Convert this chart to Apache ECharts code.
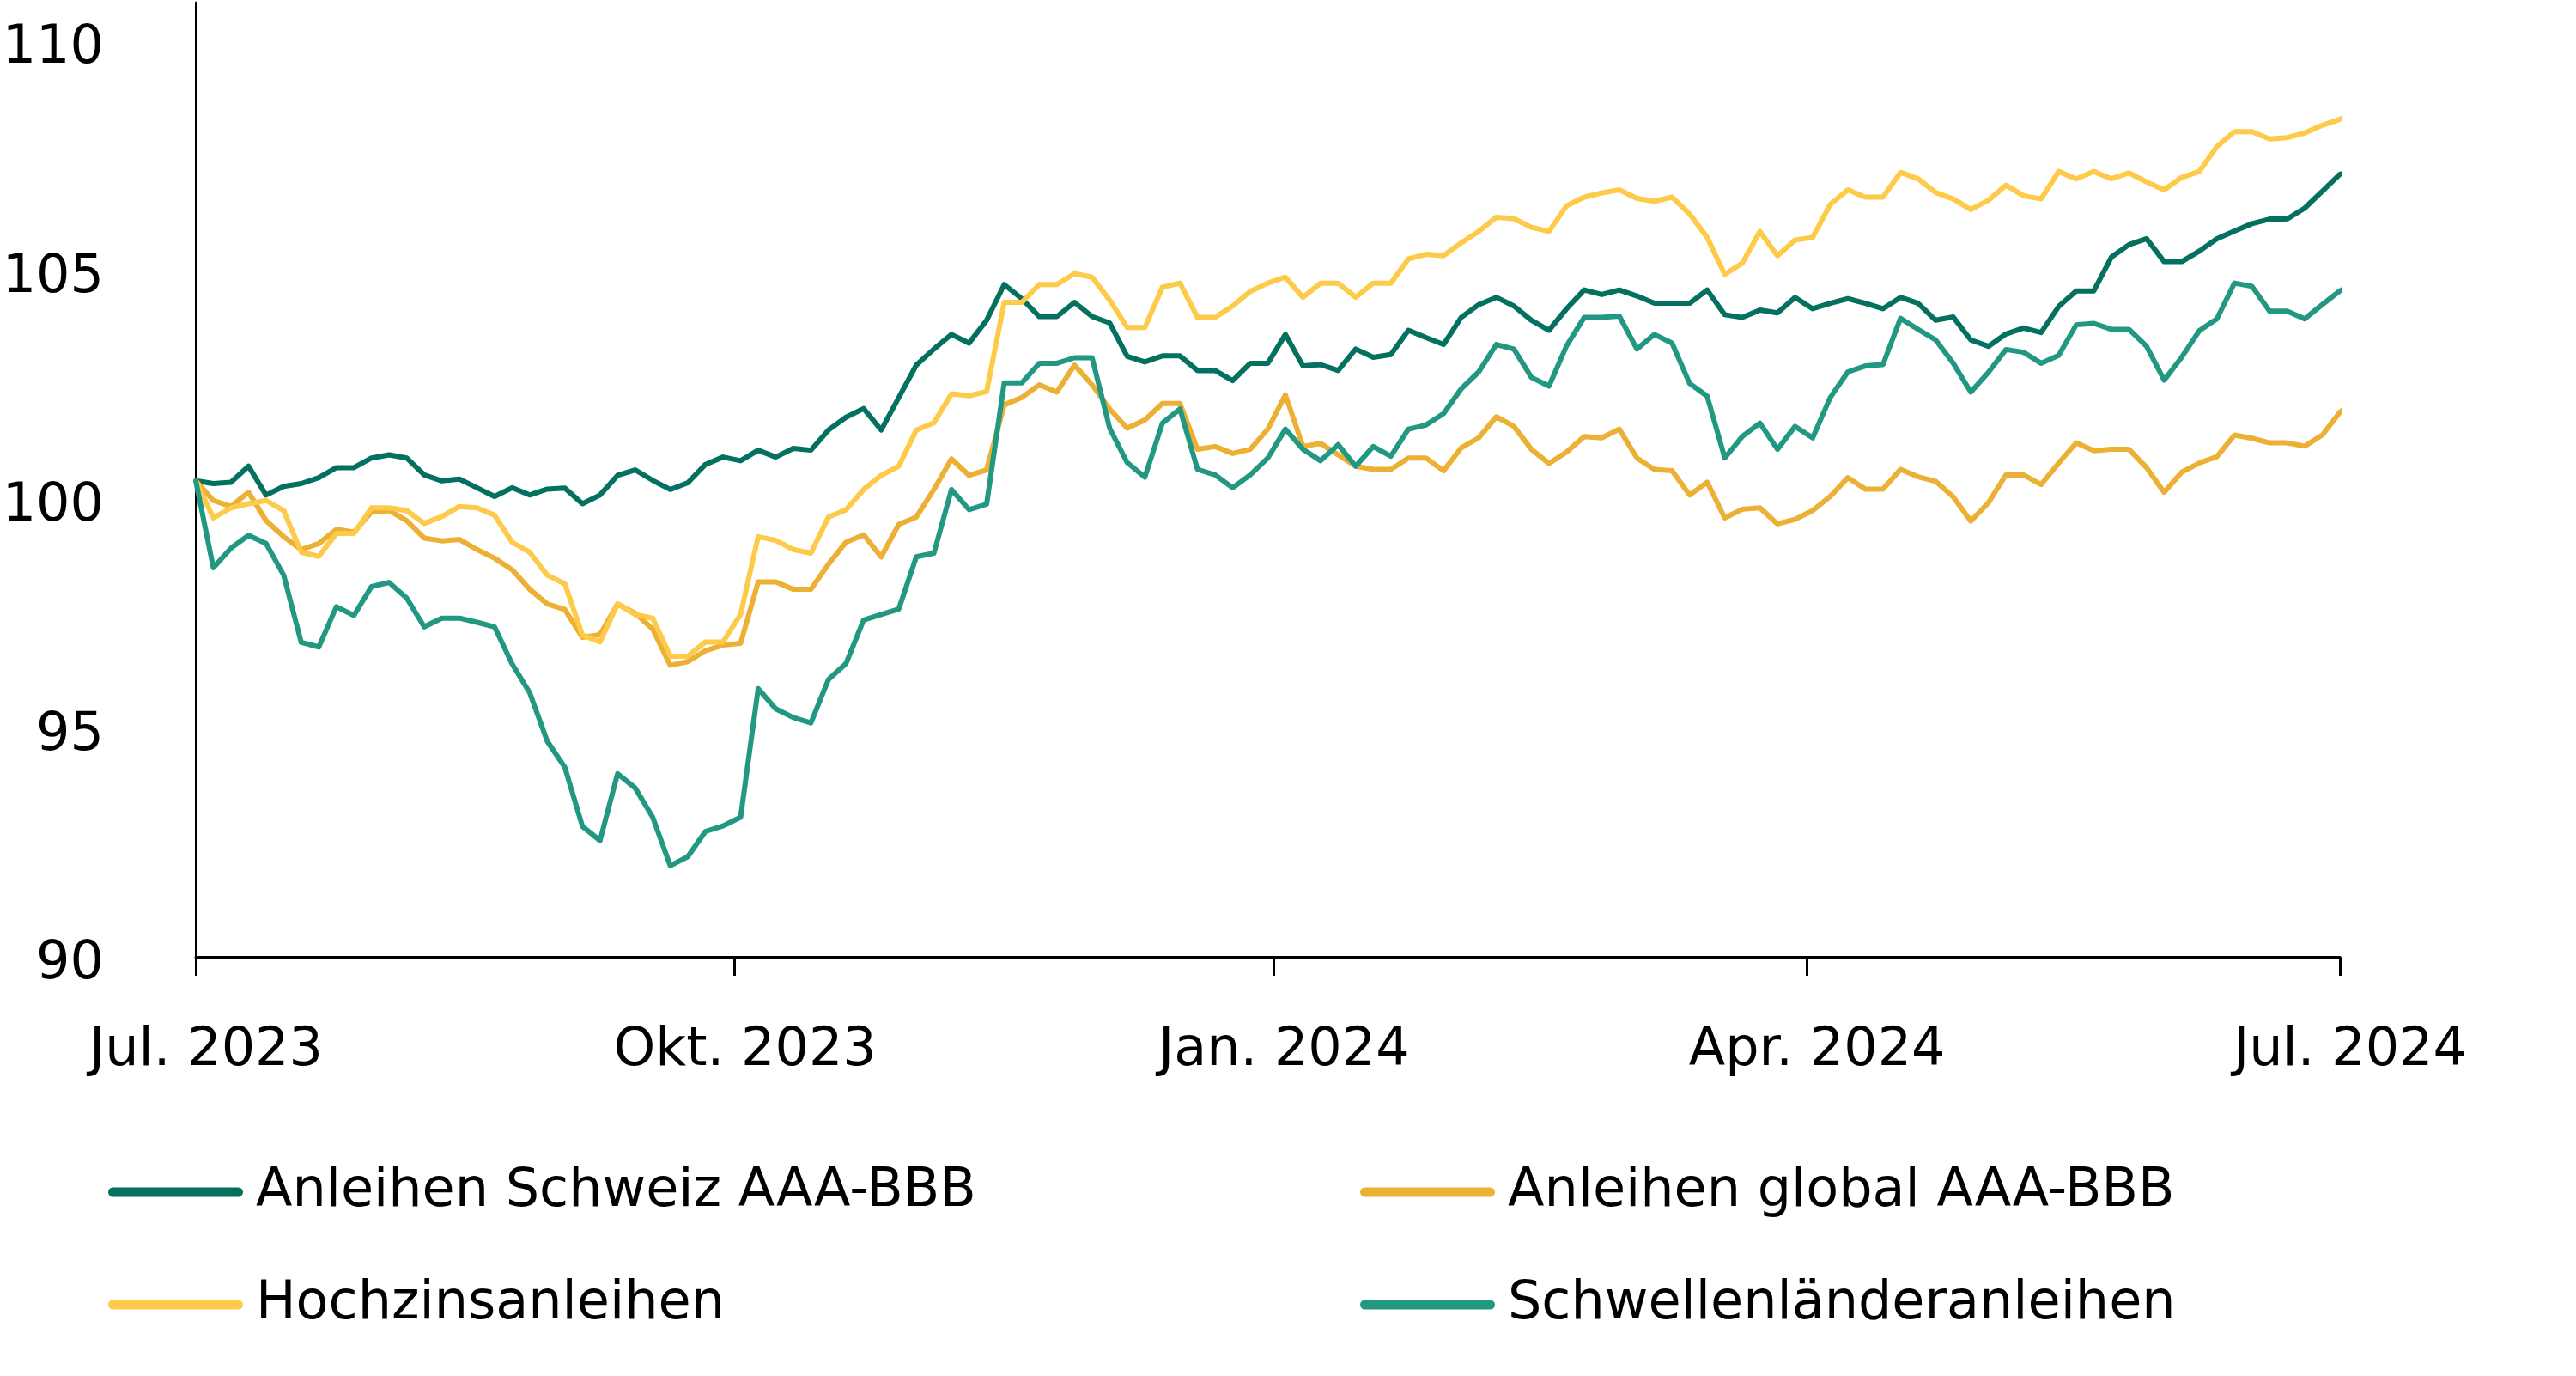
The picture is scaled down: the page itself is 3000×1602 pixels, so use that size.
<!DOCTYPE html>
<html>
<head>
<meta charset="utf-8">
<script src="https://cdn.jsdelivr.net/npm/echarts@6/dist/echarts.min.js"></script>
<style>
  html, body { margin: 0; padding: 0; background: #ffffff; }
  #chart { width: 3000px; height: 1602px; }
</style>
</head>
<body>
<div id="chart"></div>
<script>
const dates = [
  '2023-07-01','2023-07-04','2023-07-07','2023-07-10','2023-07-13','2023-07-16','2023-07-19','2023-07-22','2023-07-25','2023-07-28',
  '2023-07-31','2023-08-03','2023-08-06','2023-08-09','2023-08-12','2023-08-15','2023-08-18','2023-08-21','2023-08-24','2023-08-27',
  '2023-08-30','2023-09-02','2023-09-05','2023-09-08','2023-09-11','2023-09-14','2023-09-17','2023-09-20','2023-09-23','2023-09-26',
  '2023-09-29','2023-10-02','2023-10-05','2023-10-08','2023-10-11','2023-10-14','2023-10-17','2023-10-20','2023-10-23','2023-10-26',
  '2023-10-29','2023-11-01','2023-11-04','2023-11-07','2023-11-10','2023-11-13','2023-11-16','2023-11-19','2023-11-22','2023-11-25',
  '2023-11-28','2023-12-01','2023-12-04','2023-12-07','2023-12-10','2023-12-13','2023-12-16','2023-12-19','2023-12-22','2023-12-25',
  '2023-12-28','2023-12-31','2024-01-03','2024-01-06','2024-01-09','2024-01-12','2024-01-15','2024-01-18','2024-01-21','2024-01-24',
  '2024-01-27','2024-01-30','2024-02-02','2024-02-05','2024-02-08','2024-02-11','2024-02-14','2024-02-17','2024-02-20','2024-02-23',
  '2024-02-26','2024-02-29','2024-03-03','2024-03-06','2024-03-09','2024-03-12','2024-03-15','2024-03-18','2024-03-21','2024-03-24',
  '2024-03-27','2024-03-30','2024-04-02','2024-04-05','2024-04-08','2024-04-11','2024-04-14','2024-04-17','2024-04-20','2024-04-23',
  '2024-04-26','2024-04-29','2024-05-02','2024-05-05','2024-05-08','2024-05-11','2024-05-14','2024-05-17','2024-05-20','2024-05-23',
  '2024-05-26','2024-05-29','2024-06-01','2024-06-04','2024-06-07','2024-06-10','2024-06-13','2024-06-16','2024-06-19','2024-06-22',
  '2024-06-25','2024-06-28','2024-07-01','2024-07-03'
];

const schweiz = [
  100.40,100.34,100.37,100.72,100.09,100.28,100.34,100.47,100.69,100.69,
  100.90,100.97,100.90,100.53,100.40,100.44,100.25,100.06,100.25,100.09,
  100.22,100.24,99.90,100.09,100.52,100.64,100.41,100.21,100.36,100.76,
  100.92,100.84,101.07,100.92,101.11,101.07,101.51,101.79,101.98,101.51,
  102.22,102.93,103.28,103.60,103.41,103.91,104.69,104.38,103.99,103.99,
  104.30,103.99,103.85,103.12,103.00,103.13,103.13,102.81,102.81,102.59,
  102.97,102.97,103.60,102.91,102.94,102.81,103.28,103.10,103.16,103.69,
  103.53,103.38,103.97,104.25,104.41,104.22,103.91,103.69,104.16,104.57,
  104.47,104.57,104.44,104.28,104.28,104.28,104.57,104.03,103.97,104.13,
  104.07,104.41,104.16,104.28,104.38,104.28,104.16,104.41,104.28,103.91,
  103.98,103.48,103.34,103.61,103.74,103.64,104.21,104.55,104.55,105.29,
  105.56,105.69,105.19,105.19,105.42,105.69,105.86,106.02,106.12,106.12,
  106.36,106.73,107.10,107.16
];

const globalBonds = [
  100.40,99.97,99.84,100.15,99.53,99.18,98.90,99.03,99.34,99.28,
  99.72,99.75,99.53,99.15,99.09,99.12,98.90,98.71,98.46,98.03,
  97.71,97.59,96.98,97.04,97.71,97.51,97.16,96.37,96.45,96.69,
  96.81,96.85,98.19,98.19,98.03,98.03,98.58,99.06,99.22,98.74,
  99.45,99.61,100.21,100.88,100.52,100.64,102.06,102.22,102.50,102.34,
  102.93,102.50,101.97,101.55,101.73,102.09,102.09,101.09,101.15,101.00,
  101.09,101.53,102.28,101.15,101.22,100.97,100.72,100.65,100.65,100.90,
  100.90,100.62,101.12,101.34,101.80,101.59,101.09,100.78,101.03,101.37,
  101.34,101.53,100.90,100.65,100.62,100.09,100.37,99.59,99.78,99.81,
  99.46,99.56,99.75,100.06,100.47,100.22,100.22,100.65,100.49,100.39,
  100.05,99.52,99.92,100.53,100.53,100.32,100.79,101.23,101.06,101.09,
  101.09,100.69,100.15,100.59,100.79,100.93,101.40,101.33,101.23,101.23,
  101.16,101.40,101.90,102.10
];

const hochzins = [
  100.40,99.59,99.81,99.90,99.97,99.75,98.84,98.75,99.25,99.25,
  99.81,99.81,99.75,99.47,99.62,99.84,99.81,99.65,99.06,98.84,
  98.34,98.15,97.03,96.88,97.71,97.48,97.40,96.57,96.57,96.88,
  96.88,97.48,99.18,99.10,98.90,98.82,99.61,99.77,100.21,100.52,
  100.72,101.51,101.67,102.30,102.26,102.35,104.30,104.30,104.69,104.69,
  104.93,104.85,104.35,103.75,103.75,104.63,104.72,103.97,103.97,104.22,
  104.54,104.72,104.85,104.41,104.72,104.72,104.41,104.72,104.72,105.25,
  105.35,105.32,105.60,105.85,106.16,106.13,105.94,105.85,106.41,106.60,
  106.69,106.76,106.57,106.51,106.60,106.23,105.72,104.91,105.16,105.85,
  105.32,105.66,105.72,106.44,106.76,106.60,106.60,107.14,107.00,106.70,
  106.56,106.33,106.53,106.86,106.63,106.56,107.16,107.00,107.16,107.00,
  107.13,106.93,106.76,107.03,107.16,107.70,108.03,108.03,107.87,107.90,
  108.00,108.17,108.30,108.44
];

const schwellen = [
  100.40,98.50,98.93,99.21,99.03,98.34,96.87,96.77,97.65,97.46,
  98.09,98.18,97.84,97.21,97.40,97.40,97.31,97.21,96.40,95.77,
  94.71,94.14,92.85,92.54,94.00,93.69,93.05,91.99,92.19,92.74,
  92.86,93.05,95.86,95.42,95.23,95.11,96.06,96.41,97.36,97.48,
  97.60,98.74,98.82,100.21,99.77,99.89,102.54,102.54,102.97,102.97,
  103.09,103.09,101.55,100.80,100.48,101.66,101.97,100.65,100.53,100.25,
  100.53,100.90,101.53,101.09,100.84,101.19,100.72,101.15,100.94,101.53,
  101.62,101.87,102.41,102.78,103.38,103.28,102.66,102.47,103.35,103.97,
  103.97,104.00,103.28,103.60,103.41,102.53,102.25,100.90,101.37,101.66,
  101.09,101.59,101.34,102.22,102.78,102.91,102.94,103.95,103.71,103.48,
  102.97,102.34,102.77,103.27,103.21,102.97,103.14,103.81,103.84,103.71,
  103.71,103.34,102.60,103.10,103.68,103.94,104.72,104.65,104.11,104.11,
  103.94,104.25,104.55,104.68
];

const seriesNames = ['Anleihen Schweiz AAA-BBB', 'Anleihen global AAA-BBB', 'Hochzinsanleihen', 'Schwellenländeranleihen'];
const seriesColors = ['#04705F', '#ECB034', '#FECA4A', '#229883'];
const xTickDates = ['2023-07-01', '2023-10-01', '2024-01-01', '2024-04-01', '2024-07-01'];
const yTicks = [90, 95, 100, 105, 110];
const monthLabels = { 0: 'Jan.', 3: 'Apr.', 6: 'Jul.', 9: 'Okt.' };

function ts(s) {
  const p = s.split('-').map(Number);
  return Date.UTC(p[0], p[1] - 1, p[2]);
}

const FONT = 'DejaVu Sans';
const valueSets = [schweiz, globalBonds, hochzins, schwellen];

const series = valueSets.map((vals, i) => ({
  name: seriesNames[i],
  type: 'line',
  data: dates.map((d, j) => [ts(d), vals[j]]),
  showSymbol: false,
  symbol: 'none',
  clip: false,
  animation: false,
  color: seriesColors[i],
  itemStyle: { color: seriesColors[i] },
  lineStyle: { width: 6, color: seriesColors[i], cap: 'round', join: 'round' },
  emphasis: { disabled: true },
  z: 2 + i
}));

const legendIcon = 'path://M5.5 0H151.5A5.5 5.5 0 0 1 151.5 11H5.5A5.5 5.5 0 0 1 5.5 0Z';
const legendPos = [[126, 1357], [1584, 1357], [126, 1488], [1584, 1488]];
const legends = seriesNames.map((n, i) => ({
  data: [n],
  left: legendPos[i][0],
  top: legendPos[i][1],
  padding: 0,
  icon: legendIcon,
  itemWidth: 157,
  itemHeight: 11,
  selectedMode: false,
  textStyle: { fontFamily: FONT, fontSize: 62, color: '#000', lineHeight: 62, padding: [0, 0, 0, 10] }
}));

const chart = echarts.init(document.getElementById('chart'), null, { renderer: 'canvas' });
chart.setOption({
  animation: false,
  backgroundColor: '#ffffff',
  grid: { left: 228, right: 275, top: 3, bottom: 488, containLabel: false, outerBoundsMode: 'none' },
  legend: legends,
  tooltip: { show: false },
  xAxis: {
    type: 'value',
    min: ts('2023-07-01'),
    max: ts('2024-07-01'),
    axisLine: { show: true, lineStyle: { color: '#000', width: 3 } },
    axisTick: { show: true, length: 22, lineStyle: { color: '#000', width: 3 }, customValues: xTickDates.map(ts) },
    minorTick: { show: false },
    splitLine: { show: false },
    axisLabel: {
      customValues: xTickDates.map(ts),
      formatter: function (v) {
        const d = new Date(v);
        return monthLabels[d.getUTCMonth()] + ' ' + d.getUTCFullYear();
      },
      fontFamily: FONT,
      fontSize: 62,
      lineHeight: 62,
      color: '#000',
      margin: 79,
      padding: [0, 0, 0, 24]
    }
  },
  yAxis: {
    type: 'value',
    min: 90,
    max: 110.85,
    interval: 5,
    axisLine: { show: true, lineStyle: { color: '#000', width: 3 } },
    axisTick: { show: false },
    splitLine: { show: false },
    axisLabel: {
      customValues: yTicks,
      fontFamily: FONT,
      fontSize: 62,
      lineHeight: 18,
      verticalAlign: 'top',
      color: '#000',
      margin: 107,
      align: 'right'
    }
  },
  series: series
});
</script>
</body>
</html>
